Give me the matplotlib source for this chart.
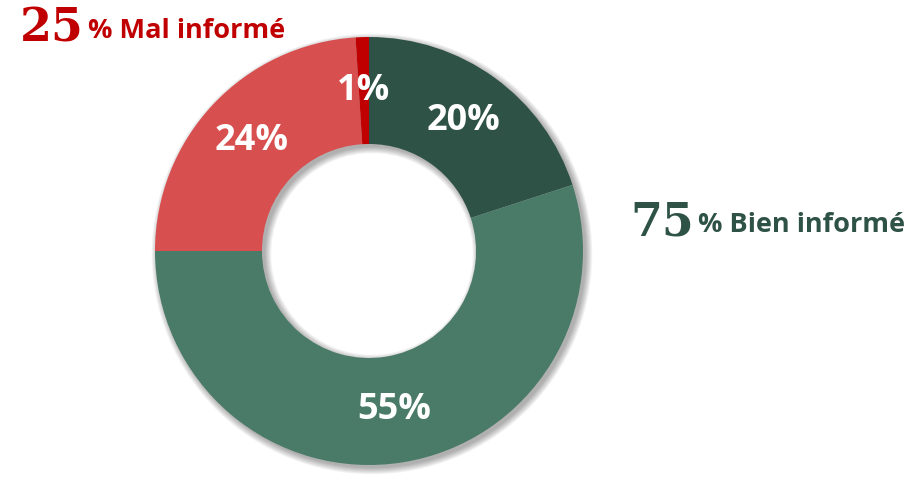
import matplotlib.pyplot as plt
from matplotlib.patches import Wedge

# data
segments = ['Bien informé A', 'Bien informé B', 'Mal informé A', 'Mal informé B']
values = [20, 55, 24, 1]
colors = ['#2F5246', '#4A7A68', '#D84F50', '#C00000']
group_pcts = [25, 75]
group_names = ['% Mal informé', '% Bien informé']
group_colors = ['#C00000', '#2F5246']

W, H = 917, 478
fig = plt.figure(figsize=(W / 100, H / 100), dpi=100)
ax = fig.add_axes([0, 0, 1, 1])

cx, cy = 369, H - 251
R, ring = 214, 107

# soft shadow, offset to the lower right
for i in range(8):
    d = i * 0.9
    sh = Wedge((cx + 3, cy - 3), R + d, 0, 360, width=ring + 2 * d,
               facecolor='#000000', edgecolor='none', alpha=0.045, zorder=1)
    ax.add_patch(sh)

wedges, texts, autotexts = ax.pie(
    values, colors=colors, startangle=90, counterclock=False,
    center=(cx, cy), radius=R, frame=True,
    wedgeprops=dict(width=ring, edgecolor='none'),
    autopct=lambda p: f'{p:.0f}%', pctdistance=0.75,
    textprops=dict(color='white', fontsize=26, fontweight='bold',
                   family=['Open Sans', 'DejaVu Sans']))
for w in wedges:
    w.set_zorder(2)
for t in autotexts:
    t.set_zorder(3)
ax.set_xlim(0, W)
ax.set_ylim(0, H)
ax.set_aspect('equal')
ax.axis('off')

# group headings
pos = [(20, 41), (630, 235)]
for (x, y), pct, name, col in zip(pos, group_pcts, group_names, group_colors):
    num = ax.text(x, H - y, str(pct), color=col, fontsize=33, fontweight='bold',
                  family='DejaVu Serif', va='baseline', ha='left')
    fig.canvas.draw()
    bb = num.get_window_extent()
    ax.text(bb.x1 + 4, H - y + 3, name, color=col, fontsize=19.5, fontweight='bold',
            family=['Open Sans', 'DejaVu Sans'], va='baseline', ha='left')

fig.savefig('out.png', dpi=100)
